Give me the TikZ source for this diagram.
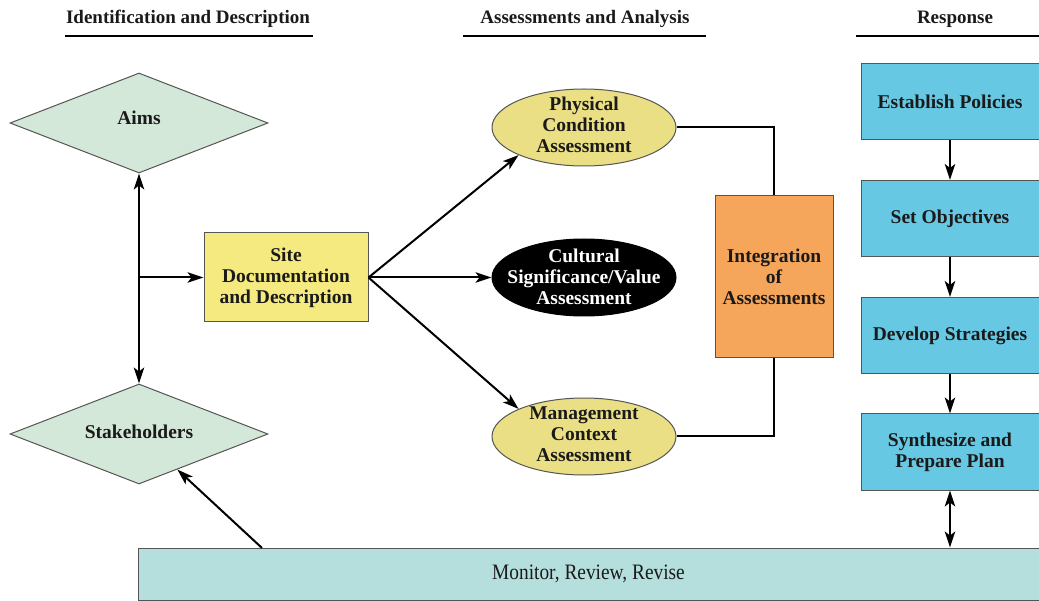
\documentclass[tikz,border=0pt]{standalone}
\usepackage{fontspec}
\setmainfont{Liberation Serif}
\newfontfamily\monfont[FakeStretch=0.88]{Liberation Serif}
\usetikzlibrary{shapes.geometric,arrows.meta,calc}
\definecolor{dgreen}{HTML}{D3E8D8}
\definecolor{siteyel}{HTML}{F5EA80}
\definecolor{ellyel}{HTML}{EADF84}
\definecolor{integor}{HTML}{F5A65B}
\definecolor{respblue}{HTML}{67C8E3}
\definecolor{monteal}{HTML}{B5DFDD}
\definecolor{edgegray}{HTML}{555555}
\definecolor{txt}{HTML}{1A1A1A}
\tikzset{
  basefont/.style={font=\fontsize{19.5}{21}\selectfont\bfseries, text=txt},
  hdr/.style={font=\fontsize{19}{21}\selectfont\bfseries, text=txt},
  dia/.style={diamond, draw=edgegray, line width=1pt, fill=dgreen, aspect=2.6, inner sep=0pt, minimum width=258pt, minimum height=100pt},
  ell/.style={ellipse, draw=edgegray, line width=1pt, fill=ellyel, inner sep=0pt, minimum width=184pt, minimum height=77pt},
  lbl/.style={basefont, align=center, inner sep=0pt},
  box/.style={basefont, rectangle, draw=edgegray, line width=1pt, inner sep=0pt, align=center},
  tip/.style={Stealth[length=16pt,width=10.5pt,inset=4pt]},
  conn/.style={line width=2pt, draw=black, -{Stealth[length=16pt,width=10.5pt,inset=4pt]}},
  dconn/.style={line width=2pt, draw=black, {Stealth[length=16pt,width=10.5pt,inset=4pt]}-{Stealth[length=16pt,width=10.5pt,inset=4pt]}},
  plain/.style={line width=2pt, draw=black},
  uline/.style={line width=2.5pt, draw=black}
}
\begin{document}
\begin{tikzpicture}[x=1pt,y=-1pt]
\useasboundingbox (0,0) rectangle (1039,601);
\fill[white] (0,0) rectangle (1039,601);

% headers
\node[hdr] (h1) at (188,19) {Identification and Description};
\node[hdr] (h2) at (585,19) {Assessments and Analysis};
\node[hdr] (h3) at (955,19) {Response};
\coordinate (u1a) at (65,36);  \coordinate (u1b) at (313,36);
\coordinate (u2a) at (463,36); \coordinate (u2b) at (706,36);
\coordinate (u3a) at (856,36); \coordinate (u3b) at (1039,36);
\draw[uline] (u1a) -- (u1b);
\draw[uline] (u2a) -- (u2b);
\draw[uline] (u3a) -- (u3b);

% left column
\node[dia] (aims) at (139,123) {};
\node[lbl] (aimst) at (139,118) {Aims};
\node[dia] (stake) at (139,434) {};
\node[lbl] (staket) at (139,432) {Stakeholders};
\node[box, fill=siteyel, minimum width=164pt, minimum height=89pt] (site) at (286,277.5) {Site\\Documentation\\and Description};

% middle column
\node[ell] (phys) at (584,127.5) {};
\node[lbl] (physt) at (584,124.5) {Physical\\Condition\\Assessment};
\node[ell, fill=black, draw=black] (cult) at (584,277.5) {};
\node[lbl, text=white] (cultt) at (584,276.5) {Cultural\\Significance/Value\\Assessment};
\node[ell] (mgmt) at (584,436.5) {};
\node[lbl] (mgmtt) at (584,434.5) {Management\\Context\\Assessment};
\node[box, fill=integor, minimum width=118pt, minimum height=162pt] (integ) at (774,277) {Integration\\of\\Assessments};

% right column
\node[box, fill=respblue, minimum width=178pt, minimum height=76pt] (est) at (950,102) {Establish Policies};
\node[box, fill=respblue, minimum width=178pt, minimum height=76pt] (setobj) at (950,218.5) {Set Objectives};
\node[box, fill=respblue, minimum width=178pt, minimum height=76pt] (dev) at (950,335.5) {Develop Strategies};
\node[box, fill=respblue, minimum width=178pt, minimum height=76pt] (syn) at (950,452) {Synthesize and\\Prepare Plan};

% bottom
\node[box, fill=monteal, minimum width=901pt, minimum height=52pt, font=\fontsize{22}{24}\monfont] (mon) at (588.5,574) {Monitor, Review, Revise};

% connectors
\draw[dconn] (aims.south) -- (stake.north);
\coordinate (j) at (aims.south |- site.west);
\draw[conn] (j) -- (site.west);
\draw[conn] (site.east) -- (phys.south west);
\draw[conn] (site.east) -- (cult.west);
\draw[conn] (site.east) -- (mgmt.north west);
\draw[plain] (phys.east) -| (integ.north);
\draw[plain] (mgmt.east) -| (integ.south);
\draw[conn] (est.south) -- (setobj.north);
\draw[conn] (setobj.south) -- (dev.north);
\draw[conn] (dev.south) -- (syn.north);
\coordinate (sm) at (syn.south |- mon.north);
\draw[dconn] (syn.south) -- (sm);
\coordinate (m1) at (262,548);
\draw[conn] (m1) -- (stake);
\end{tikzpicture}
\end{document}
